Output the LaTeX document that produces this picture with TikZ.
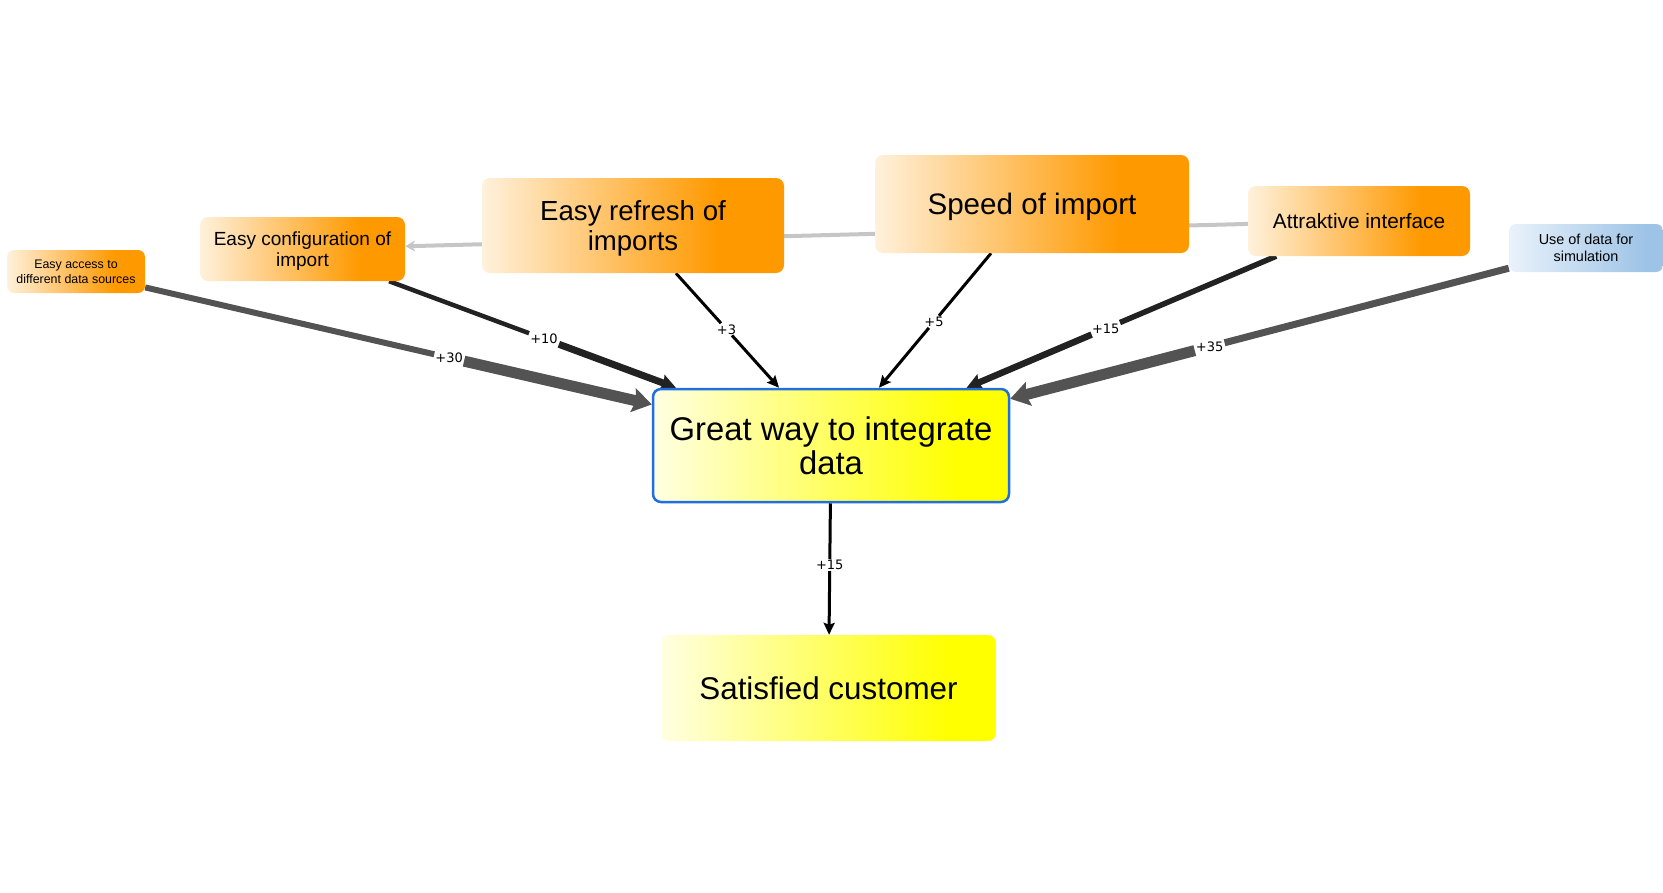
\documentclass[tikz,border=0pt]{standalone}
\usepackage{fontspec}
\setmainfont{Liberation Sans}
\newfontfamily\labelfont{DejaVu Sans}
\usetikzlibrary{arrows.meta,backgrounds,shapes}
\definecolor{orlight}{HTML}{FFF1DC}
\definecolor{ordark}{HTML}{FF9900}
\definecolor{yllight}{HTML}{FFFFE2}
\definecolor{yldark}{HTML}{FFFF00}
\definecolor{bllight}{HTML}{E9F2FB}
\definecolor{bldark}{HTML}{9DC3E6}
\definecolor{darkline}{HTML}{222222}
\definecolor{midline}{HTML}{535353}
\definecolor{greyline}{HTML}{C6C6C6}
\definecolor{frameblue}{HTML}{1F6FE0}
\pgfdeclarehorizontalshading{orangefade}{100bp}{color(0bp)=(orlight); color(25bp)=(orlight); color(64bp)=(ordark); color(100bp)=(ordark)}
\pgfdeclarehorizontalshading{yellowfade}{100bp}{color(0bp)=(yllight); color(25bp)=(yllight); color(68bp)=(yldark); color(100bp)=(yldark)}
\pgfdeclarehorizontalshading{bluefade}{100bp}{color(0bp)=(bllight); color(25bp)=(bllight); color(70bp)=(bldark); color(100bp)=(bldark)}
\tikzset{
  box/.style={rounded corners=8pt, align=center, inner sep=0pt, text depth=0pt, text=black, shade},
  ornode/.style={box, shading=orangefade},
  ylnode/.style={box, shading=yellowfade},
  blnode/.style={box, shading=bluefade, rounded corners=7pt},
  lbl/.style={fill=white, inner sep=1pt, text=black, font=\labelfont\fontsize{13}{13}\selectfont},
  bighead/.style={-{Stealth[length=19pt,width=24pt,inset=3pt]}},
  midhead/.style={-{Stealth[length=15pt,width=16pt,inset=2pt]}},
  smallhead/.style={-{Stealth[length=12pt,width=11pt,inset=2pt]}}
}

\begin{document}
\begin{tikzpicture}[x=1pt,y=-1pt]
\useasboundingbox (0,0) rectangle (1663,892);
\node[ornode, minimum width=138pt, minimum height=43pt, rounded corners=7pt, font=\fontsize{12.4}{14.8}\selectfont] (access) at (76,271.5) {Easy access to\\different data sources};
\node[ornode, minimum width=205pt, minimum height=64pt, font=\fontsize{19}{21.2}\selectfont] (config) at (302.5,249) {Easy configuration of\\import};
\node[ornode, minimum width=302pt, minimum height=95pt, font=\fontsize{27.6}{30}\selectfont] (refresh) at (633,225.5) {Easy refresh of\\imports};
\node[ornode, minimum width=314pt, minimum height=98pt, font=\fontsize{29.6}{32}\selectfont] (speed) at (1032,204) {Speed of import};
\node[ornode, minimum width=222pt, minimum height=70pt, font=\fontsize{20.8}{23}\selectfont] (attract) at (1359,221) {Attraktive interface};
\node[blnode, minimum width=154pt, minimum height=48pt, font=\fontsize{14.4}{17}\selectfont] (usedata) at (1586,248) {Use of data for\\simulation};
%
\node[ylnode, draw=frameblue, line width=2.5pt, minimum width=356pt, minimum height=113pt, font=\fontsize{32.8}{34.5}\selectfont] (great) at (831,445.5) {Great way to integrate\\data};
\node[ylnode, minimum width=335pt, minimum height=106pt, font=\fontsize{31.4}{34}\selectfont] (happy) at (828.5,688) {Satisfied customer};
%
%
\begin{scope}[on background layer]
\draw[greyline, line width=4pt, -{Stealth[length=10pt,width=11pt]}] (attract) -- (config);
%
\path (access) -- node[lbl, pos=.6] (l30) {+30} (great);
\draw[midline, line width=6pt] (access) -- (l30);
\draw[midline, line width=11pt, bighead] (l30) -- (great);
\path (config) -- node[lbl, pos=.54] (l10) {+10} (great);
\draw[darkline, line width=4.5pt] (config) -- (l10);
\draw[darkline, line width=7pt, midhead] (l10) -- (great);
\path (refresh) -- node[lbl, pos=.49] (l3) {+3} (great);
\draw[black, line width=3pt] (refresh) -- (l3);
\draw[black, line width=3pt, smallhead] (l3) -- (great);
\path (speed) -- node[lbl, pos=.51] (l5) {+5} (great);
\draw[black, line width=3pt] (speed) -- (l5);
\draw[black, line width=3pt, smallhead] (l5) -- (great);
\path (attract) -- node[lbl, pos=.55] (l15) {+15} (great);
\draw[darkline, line width=5.5pt] (attract) -- (l15);
\draw[darkline, line width=6.5pt, midhead] (l15) -- (great);
\path (usedata) -- node[lbl, pos=.6] (l35) {+35} (great);
\draw[midline, line width=7pt] (usedata) -- (l35);
\draw[midline, line width=11pt, bighead] (l35) -- (great);
%
\path (great) -- node[lbl, pos=.47] (lout) {+15} (happy);
\draw[black, line width=3pt] (great) -- (lout);
\draw[black, line width=3pt, smallhead] (lout) -- (happy);
\end{scope}
\end{tikzpicture}
\end{document}
